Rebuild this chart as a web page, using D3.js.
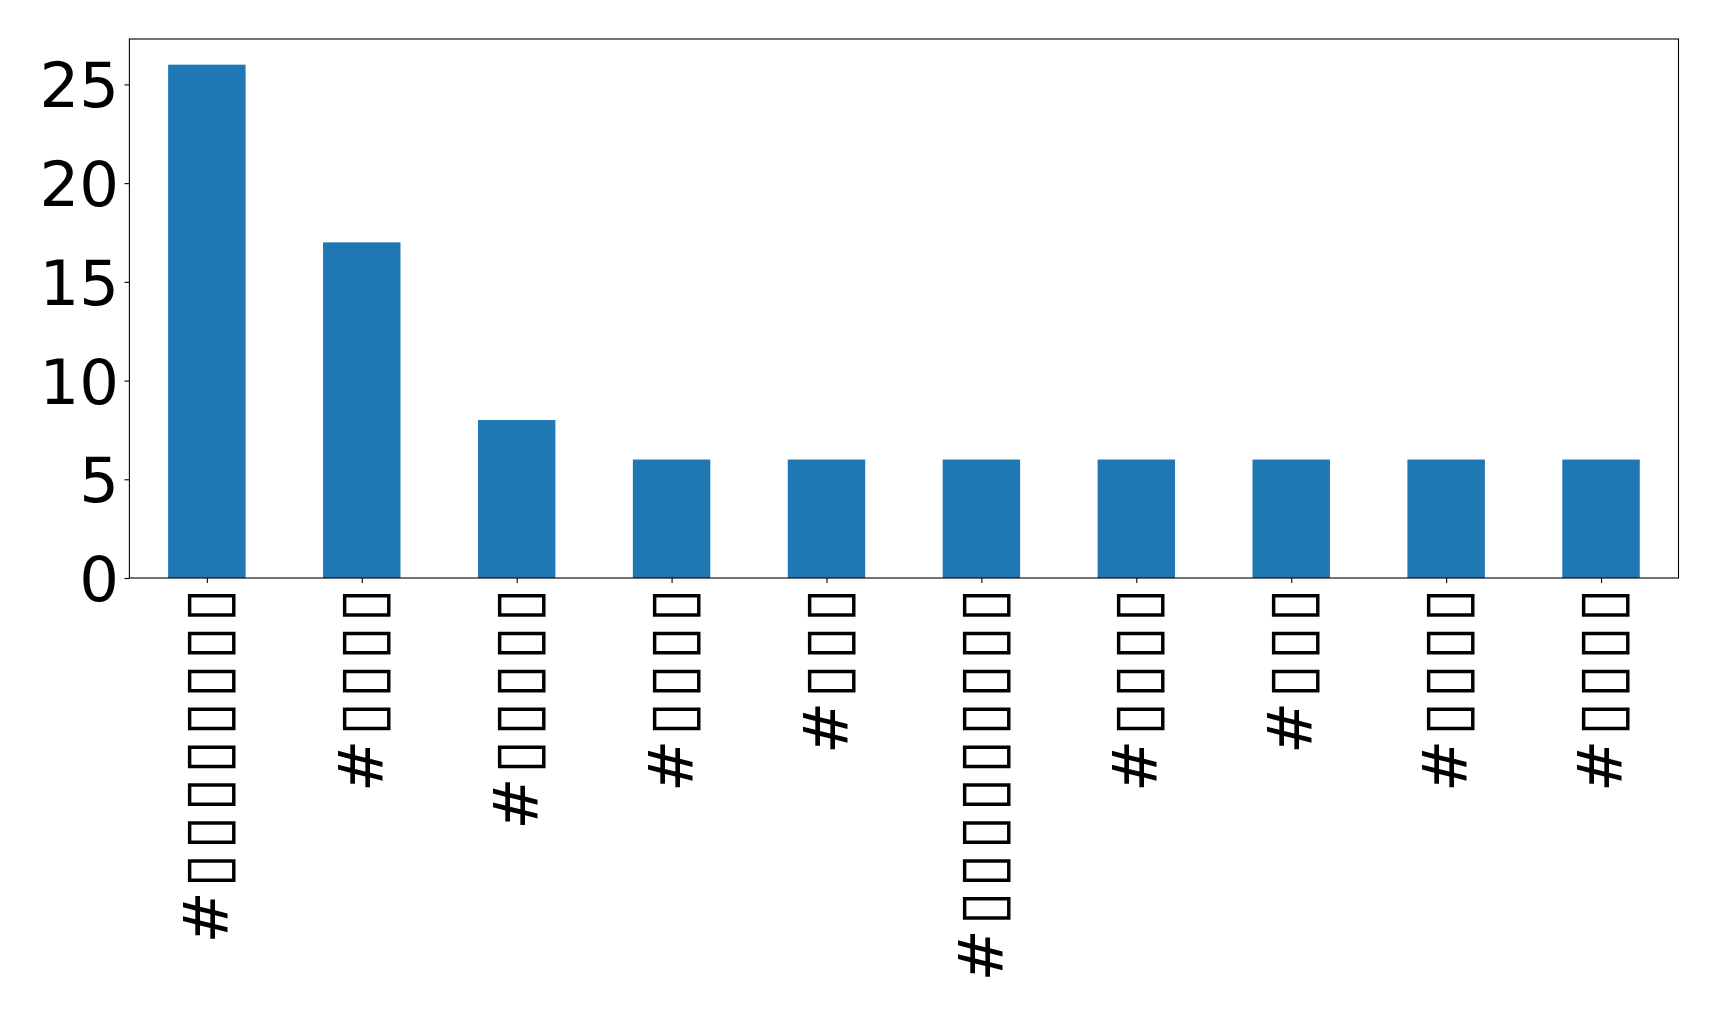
<!DOCTYPE html>
<html>
<head>
<meta charset="utf-8">
<script src="https://cdn.jsdelivr.net/npm/d3@7"></script>
<style>
  html, body { margin: 0; padding: 0; background: #fff; }
  svg { display: block; }
  text { font-family: "DejaVu Sans", sans-serif; fill: #000; }
</style>
</head>
<body>
<svg id="chart" width="1719" height="1018"></svg>
<script>
// Labels render as missing-glyph boxes in the source; kept as box characters after '#'.
const categories = [
  "#▯▯▯▯▯▯▯▯",
  "#▯▯▯▯",
  "#▯▯▯▯▯",
  "#▯▯▯▯",
  "#▯▯▯",
  "#▯▯▯▯▯▯▯▯▯",
  "#▯▯▯▯",
  "#▯▯▯",
  "#▯▯▯▯",
  "#▯▯▯▯"
];
const values = [26, 17, 8, 6, 6, 6, 6, 6, 6, 6];
const yTicks = [0, 5, 10, 15, 20, 25];

const W = 1719, H = 1018;
const margin = { left: 129.4, right: W - 1678.5, top: 39, bottom: H - 578 };
const svg = d3.select("#chart");

const x = d3.scaleLinear().domain([-0.5, categories.length - 0.5]).range([margin.left, W - margin.right]);
const y = d3.scaleLinear().domain([0, 27.3]).range([H - margin.bottom, margin.top]);
const barW = x(0.5) - x(0);

svg.append("g").selectAll("rect").data(values).join("rect")
  .attr("x", (d, i) => x(i) - barW / 2)
  .attr("width", barW)
  .attr("y", d => y(d))
  .attr("height", d => y(0) - y(d))
  .attr("fill", "#1f77b4");

// Y axis
const yAxis = d3.axisLeft(y).tickValues(yTicks).tickSize(4.9).tickPadding(5.5).tickFormat(d3.format("d"));
const gy = svg.append("g").attr("transform", `translate(${margin.left},0)`).call(yAxis);
gy.select(".domain").remove();
gy.selectAll(".tick line").attr("stroke", "#000").attr("stroke-width", 1.1);
gy.selectAll(".tick text").style("font-size", "62.5px").attr("dy", "0.36em");

// X axis
const xAxis = d3.axisBottom(x).tickValues(d3.range(categories.length)).tickSize(4.9).tickFormat(i => categories[i]);
const gx = svg.append("g").attr("transform", `translate(0,${H - margin.bottom})`).call(xAxis);
gx.select(".domain").remove();
gx.selectAll(".tick line").attr("stroke", "#000").attr("stroke-width", 1.1);
gx.selectAll(".tick text")
  .style("font-size", "62.5px")
  .style("letter-spacing", "3.5px")
  .attr("text-anchor", "end")
  .attr("transform", "rotate(-90)")
  .attr("x", -6.5)
  .attr("y", 0)
  .attr("dy", "0.33em");

// Frame
svg.append("rect")
  .attr("x", margin.left).attr("y", margin.top)
  .attr("width", W - margin.right - margin.left)
  .attr("height", H - margin.bottom - margin.top)
  .attr("fill", "none").attr("stroke", "#000").attr("stroke-width", 1.1);
</script>
</body>
</html>
